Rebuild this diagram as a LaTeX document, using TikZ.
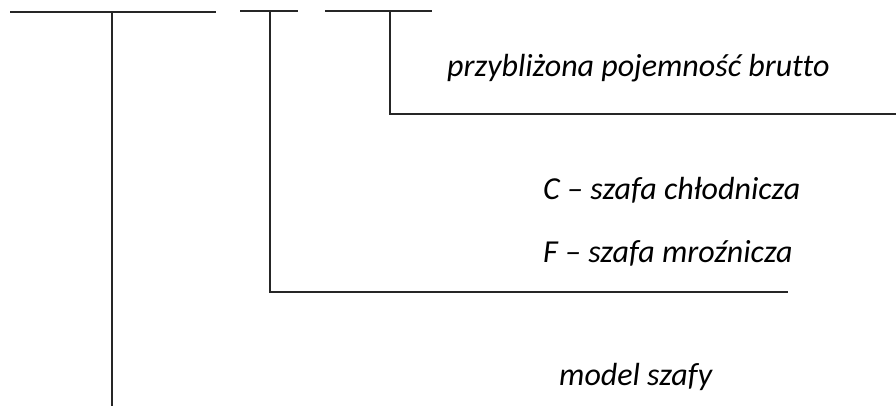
\documentclass[tikz,border=0pt]{standalone}
\usepackage{fontspec}
\setmainfont{Carlito}[Ligatures=CommonOff]
\begin{document}
\begin{tikzpicture}[x=1pt,y=-1pt,
  ln/.style={line width=1.1pt,draw=black!85},
  lbl/.style={anchor=base west,inner sep=0pt,font=\fontsize{32}{38}\selectfont\itshape}]
\useasboundingbox (0,0) rectangle (896,407);
% top bars
\coordinate (a1) at (10,12);
\coordinate (a2) at (216,12);
\coordinate (b1) at (240,11);
\coordinate (b2) at (298,11);
\coordinate (c1) at (325,11);
\coordinate (c2) at (432,11);
% verticals and leaders
\coordinate (v1t) at (112,12);
\coordinate (v1b) at (112,406);
\coordinate (v2t) at (270,11);
\coordinate (v2b) at (270,292);
\coordinate (h2e) at (788,292);
\coordinate (v3t) at (390,11);
\coordinate (v3b) at (390,114);
\coordinate (h3e) at (896,114);
\draw[ln] (a1) -- (a2);
\draw[ln] (b1) -- (b2);
\draw[ln] (c1) -- (c2);
\draw[ln] (v1t) -- (v1b);
\draw[ln] (v2t) -- (v2b) -- (h2e);
\draw[ln] (v3t) -- (v3b) -- (h3e);
% labels
\node[lbl] (t1) at (447,76) {przybliżona pojemność brutto};
\node[lbl] (t2) at (543,199) {C – szafa chłodnicza};
\node[lbl] (t3) at (543,262) {F – szafa mroźnicza};
\node[lbl] (t4) at (559,385) {model szafy};
\end{tikzpicture}
\end{document}
